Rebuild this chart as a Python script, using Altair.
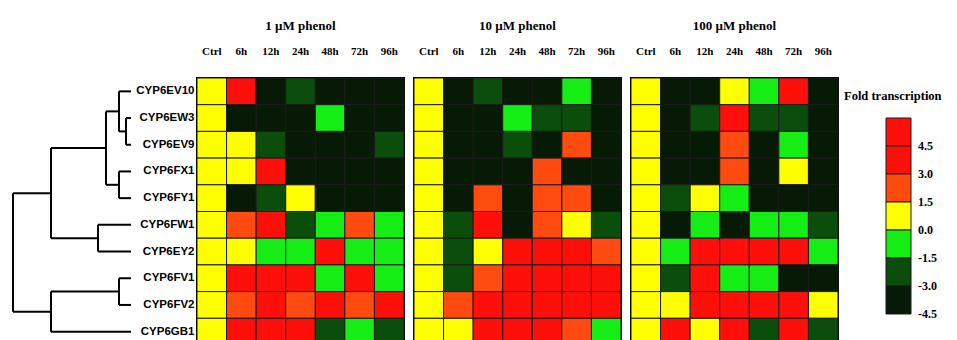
import altair as alt
import pandas as pd

genes = ["CYP6EV10", "CYP6EW3", "CYP6EV9", "CYP6FX1", "CYP6FY1",
         "CYP6FW1", "CYP6EY2", "CYP6FV1", "CYP6FV2", "CYP6GB1"]
times = ["Ctrl", "6h", "12h", "24h", "48h", "72h", "96h"]
panels = ["1 µM   phenol", "10 µM   phenol", "100 µM   phenol"]

# estimated fold transcription (rows = genes, columns = times)
fold_1uM = [
    [0.0, 4.0, -4.0, -2.2, -4.0, -4.0, -4.0],
    [0.0, -4.0, -4.0, -4.0, -0.8, -4.0, -4.0],
    [0.0, 0.6, -2.2, -4.0, -4.0, -4.0, -2.2],
    [0.0, 0.6, 4.0, -4.0, -4.0, -4.0, -4.0],
    [0.0, -4.0, -2.2, 0.6, -4.0, -4.0, -4.0],
    [0.0, 2.2, 4.0, -2.2, -0.8, 2.2, -0.8],
    [0.0, 0.6, -0.8, -0.8, 4.0, -0.8, -0.8],
    [0.0, 4.0, 4.0, 4.0, -0.8, 4.0, -0.8],
    [0.0, 2.2, 4.0, 2.2, 4.0, 2.2, 4.0],
    [0.0, 4.0, 4.0, 4.0, -2.2, -0.8, -2.2],
]
fold_10uM = [
    [0.0, -4.0, -2.2, -4.0, -4.0, -0.8, -4.0],
    [0.0, -4.0, -4.0, -0.8, -2.2, -2.2, -4.0],
    [0.0, -4.0, -4.0, -2.2, -4.0, 2.2, -4.0],
    [0.0, -4.0, -4.0, -4.0, 2.2, -4.0, -4.0],
    [0.0, -4.0, 2.2, -4.0, 2.2, 2.2, -4.0],
    [0.0, -2.2, 4.0, -4.0, 2.2, 0.6, -2.2],
    [0.0, -2.2, 0.6, 4.0, 4.0, 4.0, 2.2],
    [0.0, -2.2, 2.2, 4.0, 4.0, 4.0, 4.0],
    [0.0, 2.2, 4.0, 4.0, 4.0, 4.0, 4.0],
    [0.0, 0.6, 4.0, 4.0, 4.0, 2.2, -0.8],
]
fold_100uM = [
    [0.0, -4.0, -4.0, 0.6, -0.8, 4.0, -4.0],
    [0.0, -4.0, -2.2, 4.0, -2.2, -2.2, -4.0],
    [0.0, -4.0, -4.0, 2.2, -4.0, -0.8, -4.0],
    [0.0, -4.0, -4.0, 2.2, -4.0, 0.6, -4.0],
    [0.0, -2.2, 0.6, -0.8, -4.0, -4.0, -4.0],
    [0.0, -4.0, -0.8, -4.0, -0.8, -0.8, -2.2],
    [0.0, -0.8, 4.0, 4.0, 4.0, 4.0, -0.8],
    [0.0, -2.2, 4.0, -0.8, -0.8, -4.0, -4.0],
    [0.0, 0.6, 4.0, 4.0, 4.0, 4.0, 0.6],
    [0.0, 4.0, 0.6, 4.0, -2.2, 4.0, -2.2],
]
fold_sets = [fold_1uM, fold_10uM, fold_100uM]

# colour classes (threshold scale)
thresholds = [-3.0, -1.5, 0.0, 1.5, 3.0]
class_colors = ["#071a06", "#0b4d0b", "#14ee14", "#ffff00", "#ff4a10", "#ff0f0a"]

# legend
legend_labels = ["4.5", "3.0", "1.5", "0.0", "-1.5", "-3.0", "-4.5"]
legend_colors = ["#ff0f0a", "#ff0f0a", "#ff4a10", "#ffff00", "#14ee14", "#0b4d0b", "#071a06"]

# dendrogram (hierarchical clustering of gene rows)
dendro_nodes = ["n1", "n2", "n3", "n4", "n5", "n6", "n7", "n8", "root"]
dendro_left = ["CYP6EW3", "CYP6EV10", "CYP6FX1", "n2", "CYP6FW1", "n4", "CYP6FV1", "n7", "n6"]
dendro_right = ["CYP6EV9", "n1", "CYP6FY1", "n3", "CYP6EY2", "n5", "CYP6FV2", "CYP6GB1", "n8"]
dendro_height = [5, 12, 12, 25, 33, 80, 12, 80, 118]

SERIF = "Liberation Serif"
SANS = "Liberation Sans"

rows = []
for p, fs in zip(panels, fold_sets):
    for gi, g in enumerate(genes):
        for ti, t in enumerate(times):
            rows.append({"panel": p, "gene": g, "time": t, "fold": fs[gi][ti]})
df = pd.DataFrame(rows)

# dendrogram segments
ypos = {g: i + 0.5 for i, g in enumerate(genes)}
hpos = {g: 0 for g in genes}
segs = []
for n, l, r, h in zip(dendro_nodes, dendro_left, dendro_right, dendro_height):
    for c in (l, r):
        segs.append({"x": hpos[c], "x2": h, "y": ypos[c], "y2": ypos[c]})
    segs.append({"x": h, "x2": h, "y": ypos[l], "y2": ypos[r]})
    ypos[n] = (ypos[l] + ypos[r]) / 2
    hpos[n] = h
seg_df = pd.DataFrame(segs)

W, H = 207, 267

dendro = alt.Chart(seg_df).mark_rule(color="black", strokeWidth=2).encode(
    x=alt.X("x:Q", scale=alt.Scale(domain=[max(dendro_height), -56], nice=False, zero=False), axis=None),
    x2="x2:Q",
    y=alt.Y("y:Q", scale=alt.Scale(domain=[len(genes), 0], nice=False, zero=False), axis=None),
    y2="y2:Q",
).properties(width=174, height=H, view=alt.ViewBackground(stroke=None))


def heat(i):
    p = panels[i]
    yaxis = alt.Axis(title=None, ticks=False, domain=False, labelPadding=3,
                     labelFont=SANS, labelFontWeight="bold", labelFontSize=11.5,
                     labelColor="black") if i == 0 else None
    return alt.Chart(df[df.panel == p]).mark_rect(stroke="#1a1a1a", strokeWidth=1).encode(
        x=alt.X("time:N", sort=times, scale=alt.Scale(paddingInner=0, paddingOuter=0),
                axis=alt.Axis(orient="top", title=None, labelAngle=0, ticks=False, domain=False,
                              labelPadding=22, labelFont=SERIF, labelFontWeight="bold",
                              labelFontSize=11, labelColor="black")),
        y=alt.Y("gene:N", sort=genes, scale=alt.Scale(paddingInner=0, paddingOuter=0), axis=yaxis),
        color=alt.Color("fold:Q", scale=alt.Scale(type="threshold", domain=thresholds, range=class_colors),
                        legend=None),
    ).properties(width=W, height=H,
                 title=alt.TitleParams(p, font=SERIF, fontSize=13, fontWeight="bold", offset=12, color="black"),
                 view=alt.ViewBackground(stroke="black", strokeWidth=2))


leg_df = pd.DataFrame({"label": legend_labels, "color": legend_colors,
                       "idx": list(range(len(legend_labels)))})
leg_df["idx1"] = leg_df["idx"] + 1
yscale = alt.Scale(domain=[7, -40 / 28], nice=False, zero=False)
leg_rect = alt.Chart(leg_df).mark_rect(stroke="#1a1a1a", strokeWidth=1).encode(
    x=alt.value(38), x2=alt.value(63),
    y=alt.Y("idx:Q", scale=yscale, axis=None), y2="idx1:Q",
    color=alt.Color("color:N", scale=None),
)
leg_text = alt.Chart(leg_df).mark_text(align="left", baseline="middle", font=SERIF,
                                       fontWeight="bold", fontSize=12, color="black").encode(
    x=alt.value(70), y=alt.Y("idx1:Q", scale=yscale, axis=None), text="label:N")
leg_title = alt.Chart(pd.DataFrame({"t": ["Fold   transcription"]})).mark_text(
    align="left", baseline="middle", font=SERIF, fontWeight="bold", fontSize=12.5, color="black"
).encode(x=alt.value(-4), y=alt.value(18), text="t:N")
legend = alt.layer(leg_rect, leg_text, leg_title).properties(
    width=95, height=236, view=alt.ViewBackground(stroke=None))

chart = alt.hconcat(dendro, heat(0), heat(1), heat(2), legend, spacing=10, bounds="flush").properties(
    padding={"left": 4, "top": 11, "right": 0, "bottom": 0}
).configure(background="white")

chart.save("out.html", embed_options={"renderer": "svg", "actions": False})
